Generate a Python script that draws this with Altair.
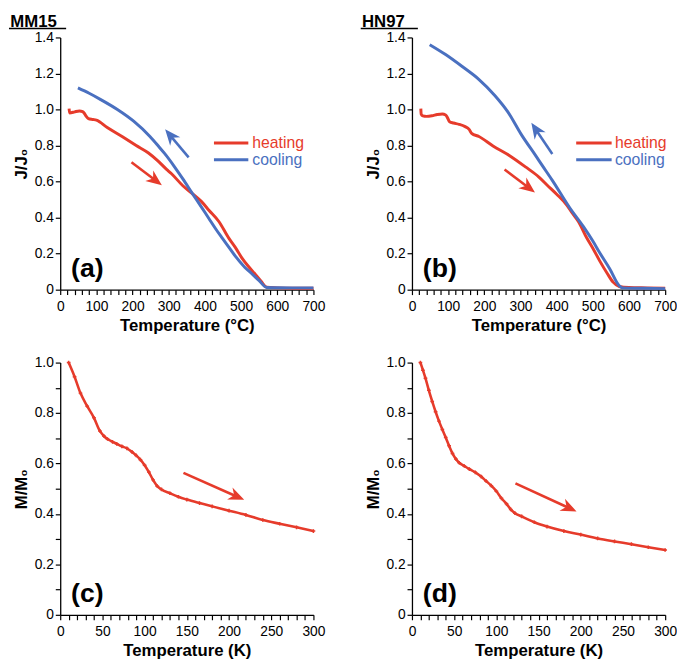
import math
import altair as alt
import pandas as pd

RED = "#e63b2b"
BLUE = "#4a70c0"
FONT = "Liberation Sans"
W, H = 257, 256

# ---------------- data ----------------
series_names = ["heating", "cooling"]

# (a) MM15, J/J0 vs temperature (degC)
a_heat_T = [24.5, 26, 30, 40, 53, 62, 67, 72, 78, 90, 100, 130, 171, 210, 244, 270, 294, 307, 339, 366,
            390, 411, 439, 466, 484, 502, 520, 539, 556, 571, 600, 650, 700]
a_heat_J = [1.005, 0.981, 0.982, 0.987, 0.992, 0.988, 0.978, 0.962, 0.95, 0.945, 0.941, 0.9, 0.85, 0.8,
            0.759, 0.715, 0.668, 0.645, 0.577, 0.532, 0.49, 0.441, 0.377, 0.286, 0.235, 0.177, 0.13,
            0.086, 0.045, 0.013, 0.01, 0.008, 0.008]
a_cool_T = [49, 80, 112, 158, 203, 248, 270, 289, 315, 339, 366, 390, 411, 430, 448, 466, 484, 510, 529,
            550, 571, 600, 650, 700]
a_cool_J = [1.12, 1.09, 1.055, 1.0, 0.935, 0.85, 0.8, 0.755, 0.685, 0.615, 0.532, 0.46, 0.395, 0.337,
            0.286, 0.236, 0.186, 0.125, 0.09, 0.05, 0.012, 0.011, 0.01, 0.01]

# (b) HN97
b_heat_T = [24.5, 25.5, 30, 40, 55, 70, 84, 93, 98, 104, 115, 130, 147, 158, 165, 185, 224, 270, 315, 351,
            374, 400, 428, 445, 460, 483, 500, 519, 540, 556, 573, 600, 650, 700]
b_heat_J = [1.005, 0.975, 0.965, 0.962, 0.965, 0.972, 0.975, 0.97, 0.955, 0.932, 0.925, 0.918, 0.905,
            0.89, 0.868, 0.85, 0.798, 0.744, 0.68, 0.625, 0.58, 0.53, 0.47, 0.42, 0.379, 0.288, 0.23,
            0.16, 0.09, 0.042, 0.018, 0.012, 0.01, 0.008]
b_cool_T = [49, 93, 138, 184, 229, 265, 302, 342, 360, 388, 437, 474, 500, 519, 547, 573, 582, 640, 700]
b_cool_J = [1.36, 1.305, 1.24, 1.169, 1.078, 0.987, 0.862, 0.744, 0.69, 0.607, 0.452, 0.35, 0.27, 0.205,
            0.115, 0.022, 0.01, 0.008, 0.006]

# (c) MM15, M/M0 vs temperature (K)
c_T = [10, 17, 24, 32, 40, 47, 52, 56, 62, 67, 73, 79, 85, 90, 95, 100, 105, 110, 115, 120, 130, 140,
       150, 165, 180, 200, 220, 240, 260, 280, 300]
c_M = [1.0, 0.944, 0.879, 0.827, 0.781, 0.729, 0.708, 0.697, 0.686, 0.678, 0.668, 0.66, 0.646, 0.632,
       0.615, 0.593, 0.566, 0.535, 0.51, 0.497, 0.482, 0.468, 0.457, 0.443, 0.43, 0.413, 0.396, 0.376,
       0.361, 0.347, 0.332]

# (d) HN97
d_T = [10, 13, 16, 20, 24, 28, 32, 36, 40, 44, 48, 52, 56, 62, 68, 75, 82, 88, 94, 100, 106, 112, 117,
       122, 130, 145, 160, 180, 200, 220, 240, 260, 280, 300]
d_M = [1.0, 0.97, 0.938, 0.89, 0.846, 0.805, 0.768, 0.735, 0.703, 0.67, 0.64, 0.618, 0.603, 0.59, 0.578,
       0.565, 0.548, 0.53, 0.512, 0.49, 0.462, 0.44, 0.418, 0.403, 0.39, 0.367, 0.35, 0.332, 0.318,
       0.303, 0.291, 0.28, 0.268, 0.257]

# arrows: start x, start y, tip x, tip y, series
a_arrows = [(197, 0.707, 281, 0.58, "heating"), (355, 0.734, 290, 0.89, "cooling")]
b_arrows = [(256, 0.667, 340, 0.54, "heating"), (388, 0.753, 330, 0.926, "cooling")]
c_arrows = [(146, 0.5625, 218, 0.456, "heating")]
d_arrows = [(122.6, 0.521, 195, 0.41, "heating")]

# legend placement (data units)
a_legend = dict(x1=425, x2=520, xt=531, y=[0.814, 0.721])
b_legend = dict(x1=454, x2=552, xt=561, y=[0.814, 0.721])

# ---------------- helpers ----------------
color_scale = alt.Scale(domain=series_names, range=[RED, BLUE])
ARROW_SHAPE = "M0,0L0.42,1L0,0.7L-0.42,1Z"
HEAD_PX = 16.0


def xaxis(step, top, lab, title):
    vals = list(range(0, top + 1, step))
    return alt.Axis(values=vals, title=title, labelOverlap=False, labelFlush=False,
                    labelExpr=f"datum.value % {lab} === 0 ? datum.label : ''")


def yaxis(step10, top10, lab10, title):
    vals = [round(i * 0.1, 1) for i in range(0, top10 + 1, step10)]
    expr = (f"(round(datum.value*10) % {lab10} === 0) ? "
            "(datum.value === 0 ? '0' : format(datum.value, '.1f')) : ''")
    return alt.Axis(values=vals, title=title, labelExpr=expr, labelOverlap=False, labelFlush=False)


def arrow_frames(arrows, xmax, ymax):
    sx, sy = W / xmax, H / ymax
    shafts, heads = [], []
    for x0, y0, x1, y1, s in arrows:
        dxp = (x1 - x0) * sx
        dyp = -(y1 - y0) * sy
        L = math.hypot(dxp, dyp)
        ang = math.degrees(math.atan2(dxp, -dyp)) % 360
        f = (L - 0.6 * HEAD_PX) / L
        shafts.append({"T": x0, "V": y0, "T2": x0 + (x1 - x0) * f, "V2": y0 + (y1 - y0) * f, "s": s})
        heads.append({"T": x1, "V": y1, "ang": ang, "s": s})
    return pd.DataFrame(shafts), pd.DataFrame(heads)


def build_panel(lines, xmax, ymax, xax, yax, arrows, legend, tag, header, dotted):
    xs = alt.Scale(domain=[0, xmax], nice=False, zero=False)
    ys = alt.Scale(domain=[0, ymax], nice=False, zero=False)
    X = alt.X("T:Q", scale=xs, axis=xax)
    Y = alt.Y("V:Q", scale=ys, axis=yax)
    C = alt.Color("s:N", scale=color_scale, legend=None)

    rows = []
    for s, T, V in lines:
        for i, (t, v) in enumerate(zip(T, V)):
            rows.append({"T": t, "V": v, "s": s, "i": i})
    ldf = pd.DataFrame(rows)

    if dotted:
        line = alt.Chart(ldf).mark_line(
            strokeWidth=2.6, color=RED, interpolate="monotone",
            point=alt.OverlayMarkDef(shape="cross", size=14, color=RED, filled=True, opacity=1)
        ).encode(x=X, y=Y, order=alt.Order("i:Q"))
    else:
        line = alt.Chart(ldf).mark_line(strokeWidth=3, strokeJoin="round", interpolate="monotone").encode(
            x=X, y=Y, color=C, detail="s:N", order=alt.Order("i:Q"))

    sdf, hdf = arrow_frames(arrows, xmax, ymax)
    shaft = alt.Chart(sdf).mark_rule(strokeWidth=2.6).encode(
        x=X, y=Y, x2="T2:Q", y2="V2:Q", color=C)
    head = alt.Chart(hdf).mark_point(shape=ARROW_SHAPE, filled=True, opacity=1, size=(2 * HEAD_PX) ** 2,
                                     strokeWidth=0).encode(
        x=X, y=Y, color=C, angle=alt.Angle("ang:Q", scale=None))

    layers = [line, shaft, head]

    if legend is not None:
        legdf = pd.DataFrame({"T": [legend["x1"]] * 2, "T2": [legend["x2"]] * 2,
                              "V": legend["y"], "s": series_names})
        legtxt = pd.DataFrame({"T": [legend["xt"]] * 2, "V": legend["y"], "s": series_names})
        layers.append(alt.Chart(legdf).mark_rule(strokeWidth=3).encode(x=X, x2="T2:Q", y=Y, color=C))
        layers.append(alt.Chart(legtxt).mark_text(align="left", baseline="middle", font=FONT,
                                                  fontSize=16).encode(x=X, y=Y, text="s:N", color=C))

    one = pd.DataFrame({"k": [0]})
    layers.append(alt.Chart(one).mark_text(align="left", baseline="alphabetic", font=FONT, fontSize=27,
                                           fontWeight="bold", color="black").encode(
        x=alt.value(11), y=alt.value(243), text=alt.value(tag)))

    if header is not None:
        layers.append(alt.Chart(one).mark_text(align="left", baseline="alphabetic", font=FONT, fontSize=17,
                                               fontWeight="bold", color="black").encode(
            x=alt.value(-50.7), y=alt.value(-11), text=alt.value(header)))
        layers.append(alt.Chart(one).mark_rule(color="black", strokeWidth=1.5).encode(
            x=alt.value(-52), x2=alt.value(6), y=alt.value(-9)))

    return alt.layer(*layers).properties(width=W, height=H)


pa = build_panel([("heating", a_heat_T, a_heat_J), ("cooling", a_cool_T, a_cool_J)], 700, 1.4,
                 xaxis(20, 700, 100, "Temperature (°C)"), yaxis(2, 14, 2, "J/J₀"),
                 a_arrows, a_legend, "(a)", "MM15", False)
pb = build_panel([("heating", b_heat_T, b_heat_J), ("cooling", b_cool_T, b_cool_J)], 700, 1.4,
                 xaxis(20, 700, 100, "Temperature (°C)"), yaxis(2, 14, 2, "J/J₀"),
                 b_arrows, b_legend, "(b)", "HN97", False)
pc = build_panel([("heating", c_T, c_M)], 300, 1.0,
                 xaxis(10, 300, 50, "Temperature (K)"), yaxis(1, 10, 2, "M/M₀"),
                 c_arrows, None, "(c)", None, True)
pd_ = build_panel([("heating", d_T, d_M)], 300, 1.0,
                  xaxis(10, 300, 50, "Temperature (K)"), yaxis(1, 10, 2, "M/M₀"),
                  d_arrows, None, "(d)", None, True)

chart = alt.concat(pa, pb, pc, pd_, columns=2, spacing={"row": 74, "column": 100}, bounds="flush").properties(
    padding=0
).configure_view(strokeWidth=0).configure_axis(
    domainColor="black", domainWidth=1.3, tickColor="black", tickWidth=1.2, tickSize=5,
    labelFont=FONT, labelFontSize=14, labelColor="black",
    titleFont=FONT, titleFontSize=17, titleFontWeight="bold", titleColor="black", grid=False
).configure_axisLeft(labelPadding=2, titlePadding=3.5).configure_axisBottom(labelPadding=5, titlePadding=4)

chart.save("out.html", embed_options={"renderer": "svg", "actions": False})
